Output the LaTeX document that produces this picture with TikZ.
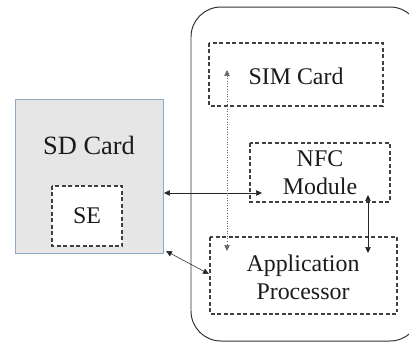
\documentclass[tikz,border=0pt]{standalone}
\usepackage{fontspec}
\setmainfont{Liberation Serif}
\usetikzlibrary{arrows.meta}
\definecolor{txt}{HTML}{1A1A1A}
\definecolor{sdfill}{HTML}{E6E6E6}
\definecolor{sdedge}{HTML}{8FA8C8}
\tikzset{
  dbox/.style={draw=black!75, dash pattern=on 4pt off 2.5pt, line width=1.1pt},
  lbl/.style={text=txt, font=\fontsize{24}{28}\selectfont, align=center, inner sep=0pt},
  conn/.style={draw=black!85, line width=0.55pt, {Triangle[width=5.5pt,length=6pt]}-{Triangle[width=5.5pt,length=6pt]}},
  dconn/.style={conn, dotted, draw=black!60},
}
\begin{document}
\begin{tikzpicture}[x=1bp,y=-1bp]
\useasboundingbox (0,0) rectangle (409,349);
\begin{scope}
\clip (0,0) rectangle (409,349);
% phone
\draw[draw=black!80, line width=1pt, rounded corners=30bp] (191,7) rectangle (420,341);
\end{scope}
% SD card
\draw[fill=sdfill, draw=sdedge, line width=0.8pt] (15,99) rectangle (163,253);
\node[lbl, font=\fontsize{26.5}{30}\selectfont] (sdlbl) at (89,145) {SD Card};
\draw[dbox, fill=white] (52,186) rectangle (122,246);
\node[lbl] (se) at (87,216) {SE};
% SIM
\draw[dbox] (209,43) rectangle (383,106);
\node[lbl] (sim) at (296,76) {SIM Card};
% NFC
\draw[dbox] (250,143) rectangle (390,202);
\node[lbl] (nfc) at (320,173) {NFC\\Module};
% AP
\draw[dbox] (210,237) rectangle (397,314);
\node[lbl] (ap) at (303,277) {Application\\Processor};
% connectors
\coordinate (h1) at (164,193);
\coordinate (h2) at (262,193);
\draw[conn] (h1) -- (h2);
\coordinate (d1) at (166,251);
\coordinate (d2) at (209,274);
\draw[conn] (d1) -- (d2);
\coordinate (v1) at (227,70);
\coordinate (v2) at (227,251);
\draw[dconn] (v1) -- (v2);
\coordinate (n1) at (368,195);
\coordinate (n2) at (368,253);
\draw[conn] (n1) -- (n2);
\end{tikzpicture}
\end{document}
